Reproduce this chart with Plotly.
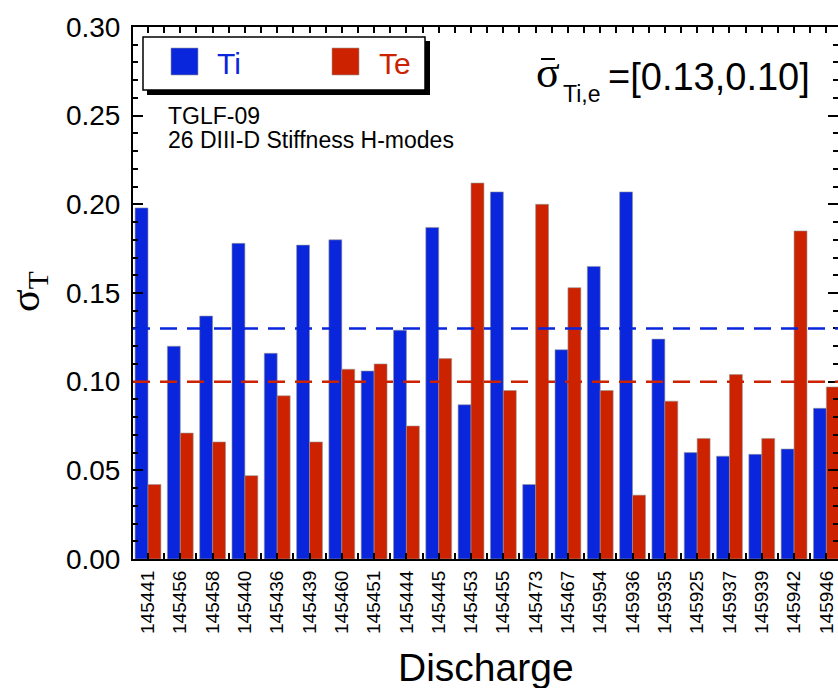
import plotly.graph_objects as go

# ---- data ----
discharges = ["145441", "145456", "145458", "145440", "145436", "145439", "145460",
              "145451", "145444", "145445", "145453", "145455", "145473", "145467",
              "145954", "145936", "145935", "145925", "145937", "145939", "145942",
              "145946"]
sigma_ti = [0.198, 0.120, 0.137, 0.178, 0.116, 0.177, 0.180, 0.106, 0.129, 0.187,
            0.087, 0.207, 0.042, 0.118, 0.165, 0.207, 0.124, 0.060, 0.058, 0.059,
            0.062, 0.085]
sigma_te = [0.042, 0.071, 0.066, 0.047, 0.092, 0.066, 0.107, 0.110, 0.075, 0.113,
            0.212, 0.095, 0.200, 0.153, 0.095, 0.036, 0.089, 0.068, 0.104, 0.068,
            0.185, 0.097]
mean_ti = 0.13
mean_te = 0.10
y_ticks = [0.00, 0.05, 0.10, 0.15, 0.20, 0.25, 0.30]

BLUE = "#0A26DC"
RED = "#CC2200"
SANS = "Liberation Sans, Arial, Helvetica, sans-serif"
SERIF = "Liberation Serif, Times New Roman, serif"

# ---- geometry (pixels) ----
W, H = 838, 688
L, R, T, B = 133, 0, 27, 129
PW, PH = W - L - R, H - T - B


def px(xp):
    return (xp - L) / PW


def py(yp):
    return (H - B - yp) / PH


x = list(range(len(discharges)))

fig = go.Figure()
fig.add_trace(go.Bar(x=x, y=sigma_ti, name="Ti", marker=dict(
    color=BLUE, line=dict(color="rgba(150,150,150,0.6)", width=1))))
fig.add_trace(go.Bar(x=x, y=sigma_te, name="Te", marker=dict(
    color=RED, line=dict(color="rgba(150,150,150,0.6)", width=1))))
# invisible trace so the right-hand tick axis is drawn
fig.add_trace(go.Scatter(x=[None], y=[None], yaxis="y2", showlegend=False,
                         hoverinfo="skip"))

# mean lines
for val, col in [(mean_ti, BLUE), (mean_te, RED)]:
    fig.add_shape(type="line", xref="paper", x0=0, x1=1, yref="y", y0=val, y1=val,
                  line=dict(color=col, width=2.5, dash="17px,10px"), layer="above")

# legend box (manual)
fig.add_shape(type="rect", xref="paper", yref="paper", x0=px(147), x1=px(430),
              y0=py(95), y1=py(41), fillcolor="black", line=dict(width=0), layer="above")
fig.add_shape(type="rect", xref="paper", yref="paper", x0=px(143), x1=px(425),
              y0=py(90), y1=py(37), fillcolor="white", line=dict(color="black", width=1.5),
              layer="above")
fig.add_shape(type="rect", xref="paper", yref="paper", x0=px(171), x1=px(198),
              y0=py(75), y1=py(48), fillcolor=BLUE, line=dict(color="rgba(150,150,150,0.6)", width=1),
              layer="above")
fig.add_shape(type="rect", xref="paper", yref="paper", x0=px(332), x1=px(359),
              y0=py(75), y1=py(48), fillcolor=RED, line=dict(color="rgba(150,150,150,0.6)", width=1),
              layer="above")
# macron over the sigma of the mean label
fig.add_shape(type="line", xref="paper", yref="paper", x0=px(541), x1=px(555),
              y0=py(59), y1=py(59), line=dict(color="black", width=2), layer="above")

annotations = [
    dict(text="Ti", x=px(215), y=py(63), xanchor="left", yanchor="middle",
         font=dict(family=SANS, size=30, color=BLUE)),
    dict(text="Te", x=px(377), y=py(63), xanchor="left", yanchor="middle",
         font=dict(family=SANS, size=30, color=RED)),
    dict(text="TGLF-09", x=px(166), y=py(116), xanchor="left", yanchor="middle",
         font=dict(family=SANS, size=23, color="black")),
    dict(text="26 DIII-D Stiffness H-modes", x=px(166), y=py(140), xanchor="left",
         yanchor="middle", font=dict(family=SANS, size=23, color="black")),
    dict(text="σ", x=px(548), y=py(72), xanchor="center", yanchor="middle",
         font=dict(family=SERIF, size=44, color="black")),
    dict(text="Ti,e", x=px(561), y=py(94), xanchor="left", yanchor="middle",
         font=dict(family=SANS, size=23, color="black")),
    dict(text=f"=[{mean_ti:.2f},{mean_te:.2f}]", x=px(812), y=py(77), xanchor="right",
         yanchor="middle", font=dict(family=SANS, size=38, color="black")),
    dict(text="σ<sub>T</sub>", x=px(28), y=py(292), xanchor="center", yanchor="middle",
         textangle=-90, font=dict(family=SERIF, size=42, color="black")),
    dict(text="Discharge", x=px(486), y=py(667), xanchor="center", yanchor="middle",
         font=dict(family=SANS, size=39, color="black")),
]
for a in annotations:
    a.update(xref="paper", yref="paper", showarrow=False)

fig.update_layout(
    width=W, height=H,
    margin=dict(l=L, r=R, t=T, b=B, pad=0),
    paper_bgcolor="white", plot_bgcolor="white",
    barmode="group", bargap=0.2, bargroupgap=0.0,
    showlegend=False,
    annotations=annotations,
    font=dict(family=SANS, color="black"),
    xaxis=dict(
        range=[-0.464, 21.36], tickmode="array", tickvals=x, ticktext=discharges,
        tickangle=-90, ticks="inside", ticklen=6, tickwidth=1.5, tickcolor="black",
        showline=True, linewidth=2, linecolor="black", mirror="ticks",
        minor=dict(tickmode="linear", tick0=0.5, dtick=1, ticks="inside", ticklen=6,
                   tickwidth=1.5, tickcolor="black"),
        showgrid=False, zeroline=False, tickfont=dict(family=SANS, size=19),
        ticklabelstandoff=2,
    ),
    yaxis=dict(
        range=[0, 0.30], tickmode="array", tickvals=y_ticks, tickformat=".2f",
        ticks="inside", ticklen=10, tickwidth=1.5, tickcolor="black",
        showline=True, linewidth=2, linecolor="black", mirror=False,
        minor=dict(dtick=0.01, tick0=0, ticks="inside", ticklen=5, tickwidth=1.5,
                   tickcolor="black"),
        showgrid=False, zeroline=False, tickfont=dict(family=SANS, size=28),
        ticklabelstandoff=5,
    ),
    yaxis2=dict(
        overlaying="y", side="right", anchor="x", range=[0, 0.30], tickmode="array",
        tickvals=y_ticks, ticks="inside", ticklen=10, tickwidth=1.5, tickcolor="black",
        showticklabels=False, showline=False, showgrid=False, zeroline=False,
        minor=dict(dtick=0.01, tick0=0, ticks="inside", ticklen=5, tickwidth=1.5,
                   tickcolor="black"),
    ),
)

fig.write_html("out.html")
